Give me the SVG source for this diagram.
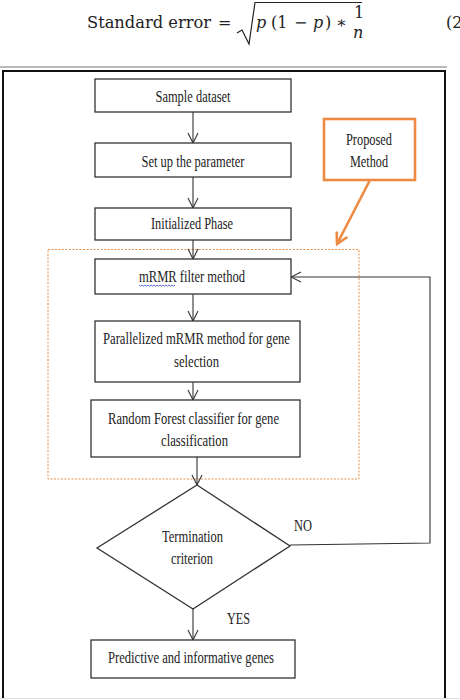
<svg xmlns="http://www.w3.org/2000/svg" width="460" height="700" viewBox="0 0 460 700">
<defs>
<marker id="v" viewBox="0 0 12 12" refX="11" refY="6" markerWidth="12" markerHeight="12" markerUnits="userSpaceOnUse" orient="auto">
<path d="M1,1 L11,6 L1,11" fill="none" stroke="#333" stroke-width="1.1"/>
</marker>
<marker id="ov" viewBox="0 0 14 14" refX="12" refY="7" markerWidth="14" markerHeight="14" markerUnits="userSpaceOnUse" orient="auto">
<path d="M1,1 L12,7 L1,13" fill="none" stroke="#ED8A44" stroke-width="2.6"/>
</marker>
</defs>
<style>
.b{fill:#fff;stroke:#333;stroke-width:1.3}
.t{font-family:"Liberation Serif","Times New Roman",serif;font-size:17px;fill:#222;text-anchor:middle}
.c{fill:none;stroke:#333;stroke-width:1.1}
.f{font-family:"DejaVu Serif","Liberation Serif",serif;font-size:16px;fill:#222}
.fi{font-family:"DejaVu Serif","Liberation Serif",serif;font-size:16px;font-style:italic;fill:#222}
</style>
<rect width="460" height="700" fill="#fff"/>
<g id="formula">
<text class="f" x="87" y="28" textLength="124" lengthAdjust="spacingAndGlyphs">Standard error</text>
<text class="f" x="218" y="28">=</text>
<path d="M237,33 L242,30 L249,44 L255,2.5 L362,2.5" fill="none" stroke="#222" stroke-width="1.2"/>
<text class="fi" x="256" y="28">p</text>
<text class="f" x="271" y="28">(1</text>
<text class="f" x="294" y="28">−</text>
<text class="fi" x="313" y="28">p</text>
<text class="f" x="325" y="28">)</text>
<text class="f" x="336" y="28">∗</text>
<text class="f" x="354" y="18" font-size="10">1</text>
<text class="fi" x="353" y="38" font-size="10">n</text>
<text class="f" x="446" y="28">(2</text>
<line x1="0" y1="67" x2="447" y2="67" stroke="#777" stroke-width="1"/>
</g>
<g id="frame">
<path d="M3,698 L3,71 L445,71 L445,698" fill="none" stroke="#111" stroke-width="2"/>
<line x1="0" y1="698.5" x2="460" y2="698.5" stroke="#ddd" stroke-width="1"/>
</g>
<g id="proposed-region">
<rect x="48" y="249.5" width="311" height="229.5" fill="none" stroke="#E8904A" stroke-width="1" stroke-dasharray="2,1.5"/>
</g>
<g id="connectors">
<line class="c" x1="193" y1="112" x2="193" y2="143" marker-end="url(#v)"/>
<line class="c" x1="193" y1="177" x2="193" y2="208" marker-end="url(#v)"/>
<line class="c" x1="193" y1="240" x2="193" y2="259" marker-end="url(#v)"/>
<line class="c" x1="193" y1="294" x2="193" y2="321" marker-end="url(#v)"/>
<line class="c" x1="193" y1="382" x2="193" y2="400" marker-end="url(#v)"/>
<line class="c" x1="197" y1="457" x2="197" y2="485" marker-end="url(#v)"/>
<line class="c" x1="193" y1="609" x2="193" y2="640" marker-end="url(#v)"/>
<polyline class="c" points="290,545 430,543 430,277 291,277" marker-end="url(#v)"/>
<line x1="370" y1="180" x2="337" y2="244" stroke="#ED8A44" stroke-width="2.6" marker-end="url(#ov)"/>
<text class="t" x="303" y="531" textLength="18" lengthAdjust="spacingAndGlyphs">NO</text>
<text class="t" x="238.5" y="624" textLength="23" lengthAdjust="spacingAndGlyphs">YES</text>
</g>
<g id="sample">
<rect class="b" x="95" y="79" width="196" height="33"/>
<text class="t" x="193" y="102" textLength="75" lengthAdjust="spacingAndGlyphs">Sample dataset</text>
</g>
<g id="setup">
<rect class="b" x="95" y="143" width="196" height="34"/>
<text class="t" x="193" y="167" textLength="103" lengthAdjust="spacingAndGlyphs">Set up the parameter</text>
</g>
<g id="init">
<rect class="b" x="95" y="208" width="196" height="32"/>
<text class="t" x="192" y="229" textLength="82" lengthAdjust="spacingAndGlyphs">Initialized Phase</text>
</g>
<g id="proposed">
<rect x="324" y="119" width="91" height="61" fill="#fff" stroke="#ED8A44" stroke-width="2.6"/>
<text class="t" x="369" y="145" textLength="46" lengthAdjust="spacingAndGlyphs">Proposed</text>
<text class="t" x="369" y="167" textLength="38" lengthAdjust="spacingAndGlyphs">Method</text>
</g>
<g id="mrmr">
<rect class="b" x="95" y="259" width="196" height="35"/>
<text class="t" x="192" y="282" textLength="106" lengthAdjust="spacingAndGlyphs">mRMR filter method</text>
<path d="M139,285 l1.5,1.2 1.5,-1.2 1.5,1.2 1.5,-1.2 1.5,1.2 1.5,-1.2 1.5,1.2 1.5,-1.2 1.5,1.2 1.5,-1.2 1.5,1.2 1.5,-1.2 1.5,1.2 1.5,-1.2 1.5,1.2 1.5,-1.2 1.5,1.2 1.5,-1.2 1.5,1.2 1.5,-1.2 1.5,1.2 1.5,-1.2 1.5,1.2 1.5,-1.2" fill="none" stroke="#4a5ad8" stroke-width="0.9"/>
</g>
<g id="parallel">
<rect class="b" x="95" y="321" width="205" height="61"/>
<text class="t" x="196.5" y="344" textLength="187" lengthAdjust="spacingAndGlyphs">Parallelized mRMR method for gene</text>
<text class="t" x="196.5" y="367" textLength="45" lengthAdjust="spacingAndGlyphs">selection</text>
</g>
<g id="rf">
<rect class="b" x="91" y="400" width="209" height="57"/>
<text class="t" x="193.5" y="424" textLength="171" lengthAdjust="spacingAndGlyphs">Random Forest classifier for gene</text>
<text class="t" x="194.5" y="446" textLength="67" lengthAdjust="spacingAndGlyphs">classification</text>
</g>
<g id="termination">
<polygon class="b" points="197,485 290,546 193,609 97,548"/>
<text class="t" x="192.5" y="542" textLength="61" lengthAdjust="spacingAndGlyphs">Termination</text>
<text class="t" x="192" y="564" textLength="42" lengthAdjust="spacingAndGlyphs">criterion</text>
</g>
<g id="predictive">
<rect class="b" x="91" y="640" width="204" height="38"/>
<text class="t" x="191" y="663" textLength="166" lengthAdjust="spacingAndGlyphs">Predictive and informative genes</text>
</g>
</svg>
